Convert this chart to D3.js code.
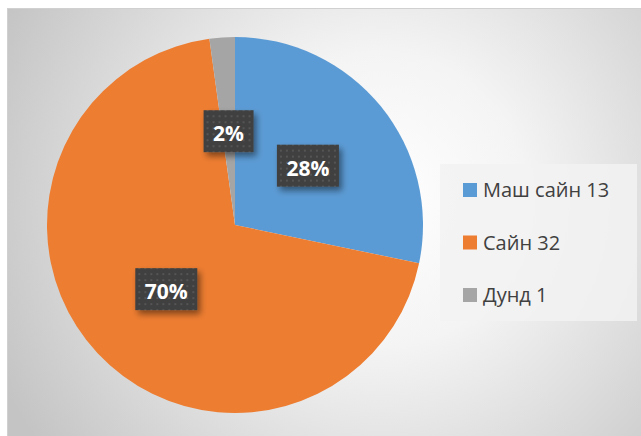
<!DOCTYPE html>
<html>
<head>
<meta charset="UTF-8" />
<title>Pie chart</title>
<script type="text/javascript" src="https://cdn.jsdelivr.net/npm/d3@7"></script>
<style>
  body { margin: 0; background: #ffffff; }
  svg { display: block; }
</style>
</head>
<body>
<div id="chart"></div>
<script type="text/javascript">
  // data
  var categories = ["Маш сайн", "Сайн", "Дунд"];
  var values = [13, 32, 1];
  var colors = ["#5b9bd5", "#ed7d31", "#a5a5a5"];

  var W = 641, H = 436;
  var cx = 235, cy = 225, R = 188;
  var total = d3.sum(values);

  var svg = d3.select("#chart").append("svg").attr("width", W).attr("height", H);
  var defs = svg.append("defs");

  // chart area background (radial gray)
  var bg = defs.append("radialGradient").attr("id", "bg")
    .attr("gradientUnits", "userSpaceOnUse")
    .attr("cx", 380).attr("cy", 200).attr("r", 420);
  bg.append("stop").attr("offset", "0").attr("stop-color", "#ffffff");
  bg.append("stop").attr("offset", "0.35").attr("stop-color", "#f4f4f4");
  bg.append("stop").attr("offset", "1").attr("stop-color", "#c4c4c4");

  // dotted pattern for the data label boxes
  var pat = defs.append("pattern").attr("id", "dots")
    .attr("patternUnits", "userSpaceOnUse").attr("width", 6).attr("height", 6);
  pat.append("rect").attr("width", 6).attr("height", 6).attr("fill", "#404040");
  pat.append("rect").attr("x", 2).attr("y", 2).attr("width", 2).attr("height", 2).attr("fill", "#545454");

  var sh = defs.append("filter").attr("id", "shadow")
    .attr("x", "-30%").attr("y", "-30%").attr("width", "170%").attr("height", "180%");
  sh.append("feDropShadow").attr("dx", 3).attr("dy", 4).attr("stdDeviation", 3)
    .attr("flood-color", "#000").attr("flood-opacity", 0.45);

  svg.append("rect").attr("x", 7.5).attr("y", 8.5).attr("width", W).attr("height", H)
    .attr("fill", "url(#bg)").attr("stroke", "#d0d0d0").attr("stroke-width", 1);

  var pie = d3.pie().sort(null).value(function(d){ return d; });
  var arcs = pie(values);
  var arc = d3.arc().innerRadius(0).outerRadius(R);

  var g = svg.append("g").attr("transform", "translate(" + cx + "," + cy + ")");
  g.selectAll("path.slice").data(arcs).enter()
    .append("path").attr("class", "slice")
    .attr("d", arc)
    .attr("fill", function(d, i){ return colors[i]; });

  // percentage labels
  var labels = g.selectAll("g.lbl").data(arcs).enter()
    .append("g").attr("class", "lbl")
    .attr("transform", function(d){ return "translate(" + arc.centroid(d) + ")"; });

  labels.each(function(d){
    var lg = d3.select(this);
    var box = lg.append("rect").attr("fill", "url(#dots)").attr("filter", "url(#shadow)");
    var t = lg.append("text")
      .attr("text-anchor", "middle")
      .attr("y", 10)
      .attr("font-family", "'Open Sans', 'Noto Sans', sans-serif")
      .attr("font-weight", "bold")
      .attr("font-size", 21)
      .attr("fill", "#ffffff")
      .text(Math.round(d.value / total * 100) + "%");
    var bw = t.node().getBBox().width + 19;
    box.attr("x", -bw / 2).attr("y", -21).attr("width", bw).attr("height", 42);
  });

  // legend
  var lgX = 440, lgY = 164;
  svg.append("rect").attr("x", lgX).attr("y", lgY).attr("width", 197).attr("height", 157)
    .attr("fill", "#f2f2f2").attr("fill-opacity", 0.85);

  var yLeg = d3.scalePoint().domain(categories).range([190, 295]);
  var items = svg.selectAll("g.leg").data(categories).enter()
    .append("g").attr("class", "leg")
    .attr("transform", function(d){ return "translate(463," + yLeg(d) + ")"; });
  items.append("rect").attr("x", 0).attr("y", -7).attr("width", 14).attr("height", 14)
    .attr("fill", function(d, i){ return colors[i]; });
  items.append("text")
    .attr("x", 20).attr("y", 7)
    .attr("font-family", "'Open Sans', 'Noto Sans', sans-serif")
    .attr("font-size", 20)
    .attr("fill", "#404040")
    .text(function(d, i){ return d + " " + values[i]; });
</script>
</body>
</html>
